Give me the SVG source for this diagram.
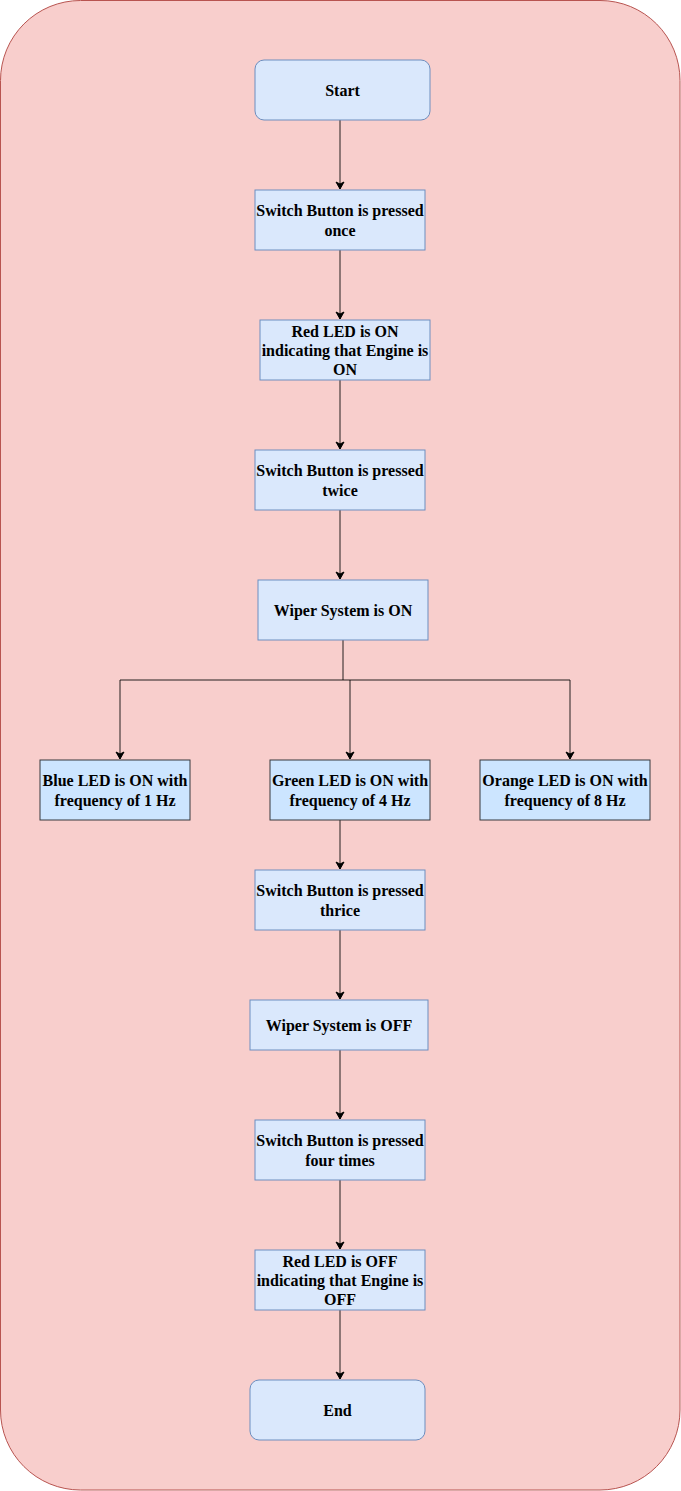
<svg xmlns="http://www.w3.org/2000/svg" width="681" height="1491" viewBox="0 0 681 1491">
<style>
.bg{fill:#f8cecc;stroke:#b85450;stroke-width:1}
.n{fill:#dae8fc;stroke:#6c8ebf;stroke-width:1}
.led{fill:#cce5ff;stroke:#36393d;stroke-width:1}
.t{font-family:"Liberation Serif","Times New Roman",serif;font-weight:bold;font-size:16px;fill:#000;text-anchor:middle}
.c{fill:none;stroke:#000;stroke-width:1;stroke-opacity:0.85}
</style>
<defs>
<marker id="arr" markerWidth="10" markerHeight="10" refX="8" refY="5" orient="auto" markerUnits="userSpaceOnUse">
<path d="M1,1 L8,5 L1,9 L3,5 Z" fill="#000" stroke="#000" stroke-width="1"/>
</marker>
</defs>
<rect class="bg" x="0.5" y="0.5" width="679.5" height="1489.5" rx="80" ry="80"/>
<g id="connectors">
<path class="c" d="M340,120 L340,189" marker-end="url(#arr)"/>
<path class="c" d="M340,250 L340,319" marker-end="url(#arr)"/>
<path class="c" d="M340,380 L340,449" marker-end="url(#arr)"/>
<path class="c" d="M340,510 L340,579" marker-end="url(#arr)"/>
<path class="c" d="M343,640 L343,680"/>
<path class="c" d="M343,680 L120,680 L120,759" marker-end="url(#arr)"/>
<path class="c" d="M343,680 L350,680 L350,759" marker-end="url(#arr)"/>
<path class="c" d="M350,680 L570,680 L570,759" marker-end="url(#arr)"/>
<path class="c" d="M340,820 L340,869" marker-end="url(#arr)"/>
<path class="c" d="M340,930 L340,999" marker-end="url(#arr)"/>
<path class="c" d="M340,1050 L340,1119" marker-end="url(#arr)"/>
<path class="c" d="M340,1180 L340,1249" marker-end="url(#arr)"/>
<path class="c" d="M340,1310 L340,1379" marker-end="url(#arr)"/>
</g>
<g id="start">
<rect class="n" x="255" y="60" width="175" height="60" rx="9" ry="9"/>
<text class="t" x="342.5" y="96">Start</text>
</g>
<g id="press-once">
<rect class="n" x="255" y="190" width="170" height="60"/>
<text class="t" x="340" y="216">Switch Button is pressed</text>
<text class="t" x="340" y="236">once</text>
</g>
<g id="red-on">
<rect class="n" x="260" y="320" width="170" height="60"/>
<text class="t" x="345" y="337">Red LED is ON</text>
<text class="t" x="345" y="356">indicating that Engine is</text>
<text class="t" x="345" y="375">ON</text>
</g>
<g id="press-twice">
<rect class="n" x="255" y="450" width="170" height="60"/>
<text class="t" x="340" y="476">Switch Button is pressed</text>
<text class="t" x="340" y="496">twice</text>
</g>
<g id="wiper-on">
<rect class="n" x="258" y="580" width="170" height="60"/>
<text class="t" x="343" y="616">Wiper System is ON</text>
</g>
<g id="blue">
<rect class="led" x="40" y="760" width="150" height="60"/>
<text class="t" x="115" y="786">Blue LED is ON with</text>
<text class="t" x="115" y="806">frequency of 1 Hz</text>
</g>
<g id="green">
<rect class="led" x="270" y="760" width="160" height="60"/>
<text class="t" x="350" y="786">Green LED is ON with</text>
<text class="t" x="350" y="806">frequency of 4 Hz</text>
</g>
<g id="orange">
<rect class="led" x="480" y="760" width="170" height="60"/>
<text class="t" x="565" y="786">Orange LED is ON with</text>
<text class="t" x="565" y="806">frequency of 8 Hz</text>
</g>
<g id="press-thrice">
<rect class="n" x="255" y="870" width="170" height="60"/>
<text class="t" x="340" y="896">Switch Button is pressed</text>
<text class="t" x="340" y="916">thrice</text>
</g>
<g id="wiper-off">
<rect class="n" x="250" y="1000" width="178" height="50"/>
<text class="t" x="339" y="1031">Wiper System is OFF</text>
</g>
<g id="press-four">
<rect class="n" x="255" y="1120" width="170" height="60"/>
<text class="t" x="340" y="1146">Switch Button is pressed</text>
<text class="t" x="340" y="1166">four times</text>
</g>
<g id="red-off">
<rect class="n" x="255" y="1250" width="170" height="60"/>
<text class="t" x="340" y="1267">Red LED is OFF</text>
<text class="t" x="340" y="1286">indicating that Engine is</text>
<text class="t" x="340" y="1305">OFF</text>
</g>
<g id="end">
<rect class="n" x="250" y="1380" width="175" height="60" rx="9" ry="9"/>
<text class="t" x="337.5" y="1416">End</text>
</g>
</svg>
